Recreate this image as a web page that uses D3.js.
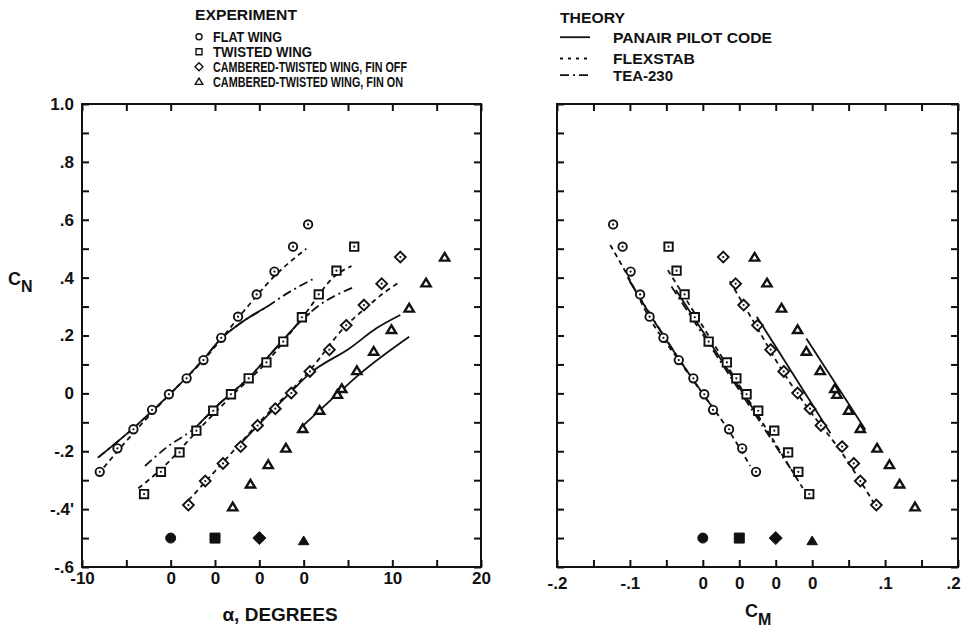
<!DOCTYPE html>
<html>
<head>
<meta charset="utf-8">
<script src="https://cdn.jsdelivr.net/npm/d3@7"></script>
<style>
body { margin: 0; background: #fff; }
text { font-family: "Liberation Sans", Arial, sans-serif; font-weight: bold; fill: #111; }
</style>
</head>
<body>
<svg id="chart" width="964" height="630"></svg>
<script>
// experiment (alpha in degrees, CN, CM)
var flatAlpha = [-8.0, -6.0, -4.2, -2.1, -0.2, 1.8, 3.7, 5.7, 7.6, 9.7, 11.7, 13.8, 15.5];
var flatCN = [-0.271, -0.190, -0.124, -0.057, -0.003, 0.052, 0.115, 0.192, 0.265, 0.342, 0.421, 0.507, 0.584];
var flatCM = [0.073, 0.054, 0.036, 0.014, 0.002, -0.013, -0.033, -0.054, -0.073, -0.086, -0.099, -0.110, -0.123];

var twistAlpha = [-8.0, -6.1, -4.0, -2.1, -0.2, 1.8, 3.8, 5.8, 7.7, 9.8, 11.7, 13.7, 15.7];
var twistCN = [-0.348, -0.271, -0.204, -0.129, -0.060, -0.003, 0.052, 0.107, 0.179, 0.263, 0.342, 0.424, 0.507];
var twistCM = [0.096, 0.081, 0.067, 0.048, 0.026, 0.010, -0.004, -0.017, -0.042, -0.061, -0.075, -0.086, -0.097];

var finOffAlpha = [-8.0, -6.1, -4.1, -2.1, -0.2, 1.8, 3.6, 5.7, 7.9, 9.8, 11.8, 13.8, 15.9];
var finOffCN = [-0.386, -0.303, -0.242, -0.184, -0.111, -0.053, 0.001, 0.076, 0.151, 0.235, 0.305, 0.379, 0.471];
var finOffCM = [0.138, 0.116, 0.107, 0.091, 0.062, 0.047, 0.030, 0.011, -0.007, -0.025, -0.044, -0.055, -0.072];

var finOnAlpha = [-8.0, -6.0, -4.0, -2.0, -0.1, 1.8, 3.8, 4.3, 6.0, 7.9, 9.9, 11.9, 13.8, 15.9];
var finOnCN = [-0.393, -0.314, -0.247, -0.190, -0.122, -0.059, -0.004, 0.016, 0.078, 0.145, 0.220, 0.294, 0.381, 0.470];
var finOnCM = [0.141, 0.120, 0.106, 0.089, 0.066, 0.050, 0.034, 0.031, 0.011, -0.008, -0.020, -0.042, -0.062, -0.079];

// each configuration is shifted along the axis, its zero is the filled mark
var alphaOffsets = [0, 5, 10, 15];
var cmOffsets = [0, 0.05, 0.10, 0.15];
var refCN = [-0.50, -0.50, -0.50, -0.51];

// theory, [alpha, CN]
var flatFlexL = [[-8.2, -0.28], [-4, -0.13], [0, 0.0], [4, 0.125], [8, 0.275], [11.7, 0.405], [15.3, 0.50]];
var flatPanairL = [[-8.2, -0.222], [-4.2, -0.12], [0, 0.0], [3.7, 0.118], [5.7, 0.19], [7.7, 0.239], [11.0, 0.302]];
var flatTeaL = [[-8.2, -0.222], [-4.2, -0.12], [0, 0.0], [3.7, 0.118], [5.7, 0.19], [7.7, 0.239], [11.0, 0.302], [13.0, 0.343], [16.0, 0.394]];
var twistFlexL = [[-8.65, -0.328], [-6, -0.26], [-2, -0.13], [2, -0.005], [5.8, 0.107], [9.8, 0.26], [13.7, 0.41], [15.4, 0.44]];
var twistPanairL = [[-2.1, -0.115], [0, -0.05], [4, 0.06], [7.7, 0.185], [9.8, 0.254], [10.7, 0.277]];
var twistTeaL = [[-7.9, -0.251], [-5.6, -0.19], [-2.1, -0.115], [0, -0.05], [4, 0.06], [7.7, 0.185], [9.8, 0.254], [11.8, 0.305], [15.5, 0.365]];
var finOffFlexL = [[-8, -0.37], [-4, -0.235], [0, -0.1], [5.7, 0.08], [9.8, 0.235], [11.8, 0.29], [14.2, 0.351], [15.9, 0.386]];
var finOffPanairL = [[-2, -0.17], [-0.3, -0.115], [3.4, 0.0], [5.7, 0.069], [10.2, 0.156], [13.2, 0.225], [15.9, 0.271]];
var finOnPanairL = [[-0.4, -0.121], [4.1, 0.006], [6.2, 0.064], [11.9, 0.196]];

// theory, [CM, CN]
var flatFlexR = [[-0.127, 0.513], [-0.100, 0.392], [-0.074, 0.264], [-0.033, 0.115], [0.002, -0.009], [0.036, -0.130], [0.065, -0.251]];
var flatPanairR = [[-0.100, 0.386], [-0.059, 0.219], [-0.018, 0.064], [0.019, -0.069]];
var flatTeaR = [[-0.103, 0.40], [-0.060, 0.225], [-0.004, 0.012]];
var twistFlexR = [[-0.098, 0.426], [-0.006, 0.053], [0.087, -0.327]];
var twistPanairR = [[-0.087, 0.357], [0.029, -0.092]];
var twistTeaR = [[-0.093, 0.369], [0.070, -0.259]];
var finOffFlexR = [[-0.063, 0.388], [-0.026, 0.229], [0.011, 0.070], [0.047, -0.061], [0.090, -0.203], [0.134, -0.376]];
var finOffPanairR = [[-0.026, 0.265], [0.075, -0.138]];
var finOnPanairR = [[-0.008, 0.190], [0.073, -0.126]];

var xTickTextL = ['-10', '', '0', '0', '0', '0', '', '10', '', '20'];
var xTickTextR = ['-.2', '', '-.1', '', '0', '0', '0', '0', '', '.1', '', '.2'];
var yTickText = ['-.6', '', "-.4'", '', '-.2', '', '0', '', '.2', '', '.4', '', '.6', '', '.8', '', '1.0'];

var expLabels = ['FLAT WING', 'TWISTED WING', 'CAMBERED-TWISTED WING, FIN OFF', 'CAMBERED-TWISTED WING, FIN ON'];
var theoryLabels = ['PANAIR PILOT CODE', 'FLEXSTAB', 'TEA-230'];

var ink = '#111';
var svg = d3.select('#chart');

var xL = d3.scaleLinear().domain([-10, 35]).range([82, 481]);
var xR = d3.scaleLinear().domain([-0.2, 0.35]).range([557, 958]);
var y = d3.scaleLinear().domain([-0.6, 1.0]).range([567, 104]);

var series = [
	{mark: 'circle', alpha: flatAlpha, cn: flatCN, cm: flatCM},
	{mark: 'square', alpha: twistAlpha, cn: twistCN, cm: twistCM},
	{mark: 'diamond', alpha: finOffAlpha, cn: finOffCN, cm: finOffCM},
	{mark: 'triangle', alpha: finOnAlpha, cn: finOnCN, cm: finOnCM}
];
var theory = [
	{pts: flatFlexL, s: 0, m: 'flex', p: 'L'},
	{pts: flatPanairL, s: 0, m: 'panair', p: 'L'},
	{pts: flatTeaL, s: 0, m: 'tea', p: 'L'},
	{pts: twistFlexL, s: 1, m: 'flex', p: 'L'},
	{pts: twistPanairL, s: 1, m: 'panair', p: 'L'},
	{pts: twistTeaL, s: 1, m: 'tea', p: 'L'},
	{pts: finOffFlexL, s: 2, m: 'flex', p: 'L'},
	{pts: finOffPanairL, s: 2, m: 'panair', p: 'L'},
	{pts: finOnPanairL, s: 3, m: 'panair', p: 'L'},
	{pts: flatFlexR, s: 0, m: 'flex', p: 'R'},
	{pts: flatPanairR, s: 0, m: 'panair', p: 'R'},
	{pts: flatTeaR, s: 0, m: 'tea', p: 'R'},
	{pts: twistFlexR, s: 1, m: 'flex', p: 'R'},
	{pts: twistPanairR, s: 1, m: 'panair', p: 'R'},
	{pts: twistTeaR, s: 1, m: 'tea', p: 'R'},
	{pts: finOffFlexR, s: 2, m: 'flex', p: 'R'},
	{pts: finOffPanairR, s: 2, m: 'panair', p: 'R'},
	{pts: finOnPanairR, s: 3, m: 'panair', p: 'R'}
];
var dash = {panair: null, flex: '5,4', tea: '9,4,2,4'};

function markPath(type, r) {
	if (type == 'circle') {
		var p = d3.path();
		p.arc(0, 0, r, 0, 2 * Math.PI);
		p.closePath();
		return p.toString();
	}
	if (type == 'square') return 'M' + (-r) + ',' + (-r) + 'h' + 2 * r + 'v' + 2 * r + 'h' + (-2 * r) + 'Z';
	if (type == 'diamond') return 'M0,' + (-r) + 'L' + r + ',0L0,' + r + 'L' + (-r) + ',0Z';
	return 'M0,' + (-r) + 'L' + (r * 1.05) + ',' + (r * 0.75) + 'L' + (-r * 1.05) + ',' + (r * 0.75) + 'Z';
}
var markSize = {circle: 4.2, square: 4.2, diamond: 5.4, triangle: 4.4};
var refSize = {circle: 5, square: 5, diamond: 6.5, triangle: 5};

// frames and axes
function frameAxes(xs, xVals, xText, yLabels, pad) {
	var x0 = xs.range()[0], x1 = xs.range()[1];
	var yVals = d3.range(0, 17).map(function (i) { return -0.6 + i * 0.1; });
	var bottom = svg.append('g').attr('transform', 'translate(0,567)')
		.call(d3.axisBottom(xs).tickValues(xVals).tickSize(-7).tickPadding(pad)
			.tickFormat(function (d, i) { return xText[i]; }));
	svg.append('g').attr('transform', 'translate(0,104)')
		.call(d3.axisTop(xs).tickValues(xVals).tickSize(-7).tickFormat(''));
	var left = svg.append('g').attr('transform', 'translate(' + x0 + ',0)')
		.call(d3.axisLeft(y).tickValues(yVals).tickSize(-7).tickPadding(8)
			.tickFormat(function (d, i) { return yLabels ? yTickText[i] : ''; }));
	svg.append('g').attr('transform', 'translate(' + x1 + ',0)')
		.call(d3.axisRight(y).tickValues(yVals).tickSize(-7).tickFormat(''));
	svg.selectAll('.domain').remove();
	svg.selectAll('.tick line').attr('stroke', ink).attr('stroke-width', 2);
	bottom.selectAll('text').attr('font-size', 17);
	// keep the last label inside the picture
	bottom.selectAll('.tick:last-of-type text').attr('dx', x1 > 900 ? -5 : 0);
	left.selectAll('text').attr('font-size', 17);
	svg.append('rect').attr('x', x0).attr('y', 104).attr('width', x1 - x0).attr('height', 463)
		.attr('fill', 'none').attr('stroke', ink).attr('stroke-width', 2);
}
frameAxes(xL, d3.range(-10, 36, 5), xTickTextL, true, 5);
frameAxes(xR, d3.range(0, 12).map(function (i) { return -0.2 + i * 0.05; }), xTickTextR, false, 10);

// theory curves
theory.forEach(function (t) {
	var off = t.p == 'L' ? alphaOffsets[t.s] : cmOffsets[t.s];
	var xs = t.p == 'L' ? xL : xR;
	var line = d3.line()
		.x(function (d) { return xs(d[0] + off); })
		.y(function (d) { return y(d[1]); })
		.curve(d3.curveMonotoneX);
	svg.append('path').attr('d', line(t.pts)).attr('fill', 'none')
		.attr('stroke', ink).attr('stroke-width', 1.8)
		.attr('stroke-dasharray', dash[t.m]);
});

// experiment points
series.forEach(function (s, i) {
	var pts = [];
	for (var j = 0; j < s.alpha.length; j++) {
		pts.push({x: xL(s.alpha[j] + alphaOffsets[i]), y: y(s.cn[j])});
		pts.push({x: xR(s.cm[j] + cmOffsets[i]), y: y(s.cn[j])});
	}
	var g = svg.append('g');
	g.selectAll('path').data(pts).join('path')
		.attr('transform', function (d) { return 'translate(' + d.x + ',' + d.y + ')'; })
		.attr('d', markPath(s.mark, markSize[s.mark]))
		.attr('fill', '#fff').attr('stroke', ink)
		.attr('stroke-width', s.mark == 'triangle' ? 2.4 : 1.9);
	if (s.mark != 'triangle') {
		g.selectAll('circle').data(pts).join('circle')
			.attr('cx', function (d) { return d.x; }).attr('cy', function (d) { return d.y; })
			.attr('r', 1.1).attr('fill', ink);
	}
	// zero reference marks
	var refs = [{x: xL(alphaOffsets[i]), y: y(refCN[i])}, {x: xR(cmOffsets[i]), y: y(refCN[i])}];
	svg.append('g').selectAll('path').data(refs).join('path')
		.attr('transform', function (d) { return 'translate(' + d.x + ',' + d.y + ')'; })
		.attr('d', markPath(s.mark, refSize[s.mark]))
		.attr('fill', ink).attr('stroke', ink).attr('stroke-width', 1);
});

// axis titles
var cn = svg.append('text').attr('x', 8).attr('y', 285).attr('font-size', 18).text('C');
cn.append('tspan').attr('dy', 7).attr('font-size', 16).text('N');
var cm = svg.append('text').attr('x', 745).attr('y', 617).attr('font-size', 18).text('C');
cm.append('tspan').attr('dy', 8).attr('font-size', 16).text('M');
svg.append('text').attr('x', 280).attr('y', 621).attr('text-anchor', 'middle')
	.attr('font-size', 19).text('\u03b1, DEGREES');

// legends
var expBase = [41.7, 56.7, 71.7, 86.7];
var expWidth = [69, 99, 194, 190];
svg.append('text').attr('x', 195).attr('y', 19.5).attr('font-size', 14)
	.attr('textLength', 102).attr('lengthAdjust', 'spacingAndGlyphs').text('EXPERIMENT');
expLabels.forEach(function (lab, i) {
	svg.append('text').attr('x', 213).attr('y', expBase[i]).attr('font-size', 14)
		.attr('textLength', expWidth[i]).attr('lengthAdjust', 'spacingAndGlyphs').text(lab);
	var r = {circle: 3, square: 3, diamond: 4, triangle: 3.6}[series[i].mark];
	svg.append('path').attr('transform', 'translate(199,' + (expBase[i] - 5) + ')')
		.attr('d', markPath(series[i].mark, r)).attr('fill', 'none')
		.attr('stroke', ink).attr('stroke-width', 1.4);
});
var thBase = [42.7, 64, 80.7];
var thWidth = [159, 82, 60];
var thDash = [null, '3,5', '9,4,2,4'];
svg.append('text').attr('x', 560).attr('y', 23.3).attr('font-size', 14)
	.attr('textLength', 65).attr('lengthAdjust', 'spacingAndGlyphs').text('THEORY');
theoryLabels.forEach(function (lab, i) {
	svg.append('text').attr('x', 613).attr('y', thBase[i]).attr('font-size', 14)
		.attr('textLength', thWidth[i]).attr('lengthAdjust', 'spacingAndGlyphs').text(lab);
	svg.append('line').attr('x1', 560).attr('x2', 590)
		.attr('y1', thBase[i] - 5.5).attr('y2', thBase[i] - 5.5)
		.attr('stroke', ink).attr('stroke-width', 1.8).attr('stroke-dasharray', thDash[i]);
});
</script>
</body>
</html>
